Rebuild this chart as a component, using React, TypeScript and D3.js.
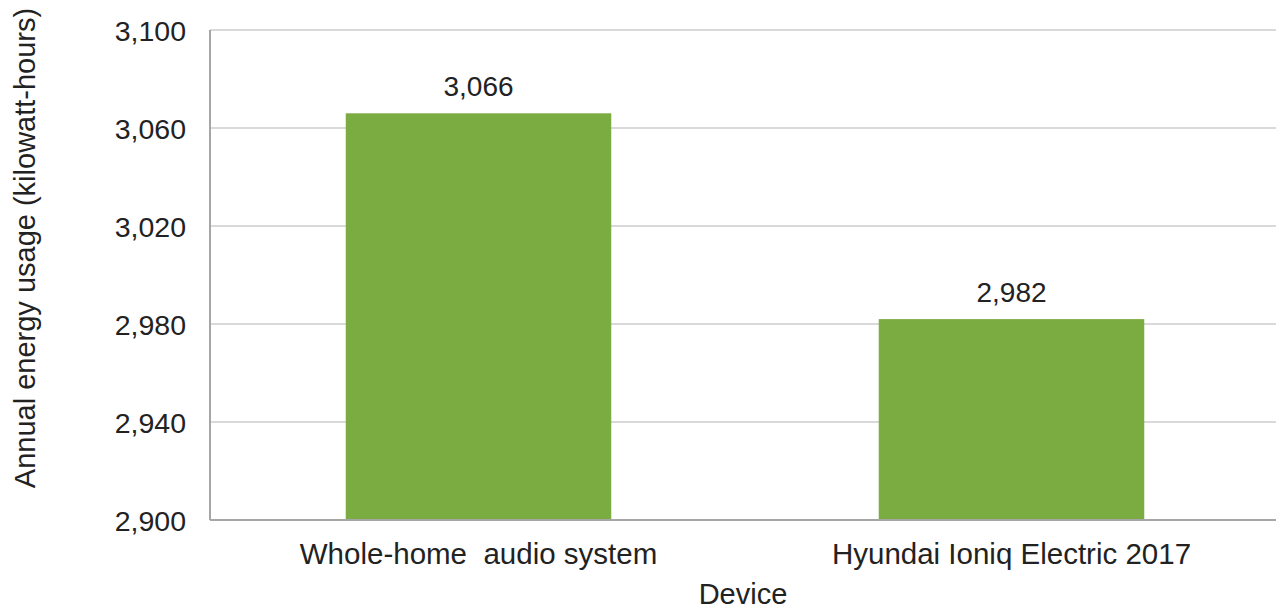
import { useEffect, useRef } from "react";
import * as d3 from "d3";

const devices = ["Whole-home  audio system", "Hyundai Ioniq Electric 2017"];
const usage = [3066, 2982];
const yTicks = [2900, 2940, 2980, 3020, 3060, 3100];

const W = 1276;
const H = 609;

export default function App() {
  const ref = useRef<SVGSVGElement>(null);

  useEffect(() => {
    if (!ref.current) return;
    const svg = d3.select(ref.current);
    svg.selectAll("*").remove();

    const margin = { top: 30, right: 0, bottom: 89, left: 210 };
    const font = "'Liberation Sans', Arial, sans-serif";

    const x = d3.scaleBand<string>()
      .domain(devices)
      .range([margin.left, W - margin.right])
      .paddingInner(0.5)
      .paddingOuter(0.25);

    const y = d3.scaleLinear()
      .domain([2900, 3100])
      .range([H - margin.bottom, margin.top]);

    // gridlines
    svg.append("g")
      .selectAll("line")
      .data(yTicks.slice(1))
      .join("line")
      .attr("x1", margin.left)
      .attr("x2", W - margin.right)
      .attr("y1", d => y(d))
      .attr("y2", d => y(d))
      .attr("stroke", "#d9d9d9")
      .attr("stroke-width", 2);

    // bars
    const data = devices.map((d, i) => ({ name: d, value: usage[i] }));
    svg.append("g")
      .selectAll("rect")
      .data(data)
      .join("rect")
      .attr("x", d => x(d.name)! + 2.5)
      .attr("width", x.bandwidth() - 1)
      .attr("y", d => y(d.value))
      .attr("height", d => y(2900) - y(d.value))
      .attr("fill", "#7aac42");

    // value labels
    svg.append("g")
      .selectAll("text")
      .data(data)
      .join("text")
      .attr("x", d => x(d.name)! + 2 + x.bandwidth() / 2)
      .attr("y", d => y(d.value) - 17)
      .attr("text-anchor", "middle")
      .attr("font-family", font)
      .attr("font-size", 28)
      .attr("fill", "#222")
      .text(d => d3.format(",")(d.value));

    // axes lines
    svg.append("line")
      .attr("x1", margin.left).attr("x2", margin.left)
      .attr("y1", margin.top).attr("y2", y(2900))
      .attr("stroke", "#a6a6a6").attr("stroke-width", 2);
    svg.append("line")
      .attr("x1", margin.left).attr("x2", W - margin.right)
      .attr("y1", y(2900)).attr("y2", y(2900))
      .attr("stroke", "#a6a6a6").attr("stroke-width", 2);

    // y tick labels
    svg.append("g")
      .selectAll("text")
      .data(yTicks)
      .join("text")
      .attr("x", 186)
      .attr("y", d => y(d) + 11)
      .attr("text-anchor", "end")
      .attr("font-family", font)
      .attr("font-size", 28.5)
      .attr("fill", "#222")
      .text(d => d3.format(",")(d));

    // x tick labels
    svg.append("g")
      .selectAll("text")
      .data(devices)
      .join("text")
      .attr("x", d => x(d)! + 2 + x.bandwidth() / 2)
      .attr("y", 564)
      .attr("text-anchor", "middle")
      .attr("font-family", font)
      .attr("font-size", 29.5)
      .attr("fill", "#222")
      .style("white-space", "pre")
      .text(d => d);

    // axis titles
    svg.append("text")
      .attr("x", (margin.left + W - margin.right) / 2)
      .attr("y", 604)
      .attr("text-anchor", "middle")
      .attr("font-family", font)
      .attr("font-size", 29)
      .attr("fill", "#222")
      .text("Device");

    svg.append("text")
      .attr("transform", `translate(35, ${(10 + 486) / 2}) rotate(-90)`)
      .attr("text-anchor", "middle")
      .attr("font-family", font)
      .attr("font-size", 29)
      .attr("fill", "#222")
      .text("Annual energy usage (kilowatt-hours)");
  }, []);

  return (
    <div style={{ position: "fixed", left: 0, top: 0, width: W, height: H, overflow: "hidden", background: "#fff" }}>
      <svg ref={ref} width={W} height={H} style={{ display: "block" }} />
    </div>
  );
}
